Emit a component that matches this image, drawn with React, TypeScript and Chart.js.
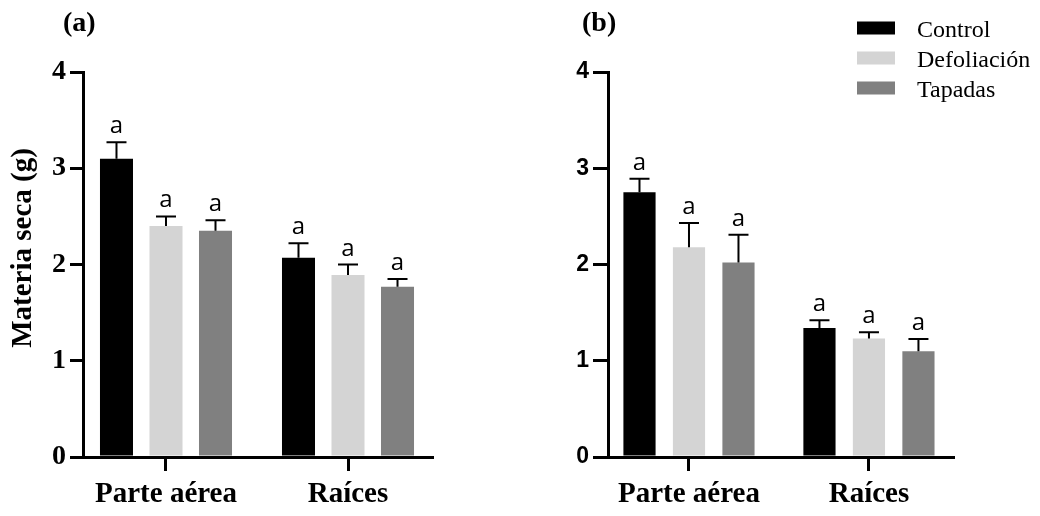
import React, { useEffect, useRef } from "react";
import { Chart, registerables } from "chart.js";

Chart.register(...registerables);

// ---------- data ----------
const categories = ["Parte aérea", "Raíces"];
const seriesNames = ["Control", "Defoliación", "Tapadas"];
const seriesColors = ["#000000", "#d4d4d4", "#808080"];
const yTickValues = [0, 1, 2, 3, 4];
const yAxisTitle = "Materia seca (g)";

// panel (a)
const aControl = [3.1, 2.07];
const aControlErr = [0.17, 0.15];
const aDefoliacion = [2.4, 1.89];
const aDefoliacionErr = [0.1, 0.11];
const aTapadas = [2.35, 1.77];
const aTapadasErr = [0.11, 0.08];
const aLetters = ["a", "a"];

// panel (b)
const bControl = [2.75, 1.34];
const bControlErr = [0.14, 0.08];
const bDefoliacion = [2.18, 1.23];
const bDefoliacionErr = [0.25, 0.065];
const bTapadas = [2.02, 1.1];
const bTapadasErr = [0.29, 0.125];
const bLetters = ["a", "a"];

const SERIF = '"Liberation Serif", "Times New Roman", serif';
const SANS = '"Liberation Sans", Arial, sans-serif';

function buildDatasets(values: number[][], errs: number[][], letters: string[], catPct: number, barPct: number) {
  return values.map((vals, si) => ({
    label: seriesNames[si],
    data: vals.map((v, ci) => ({ x: ci, y: v })),
    errors: errs[si],
    letters: letters,
    backgroundColor: seriesColors[si],
    borderWidth: 0,
    categoryPercentage: catPct,
    barPercentage: barPct,
  }));
}

const overlayPlugin = {
  id: "overlay",
  afterDatasetsDraw(chart: any) {
    const ctx = chart.ctx;
    const ys = chart.scales.y;
    chart.data.datasets.forEach((ds: any, i: number) => {
      const meta = chart.getDatasetMeta(i);
      meta.data.forEach((bar: any, j: number) => {
        const v = ds.data[j].y;
        const e = ds.errors[j];
        const top = ys.getPixelForValue(v + e);
        ctx.save();
        ctx.strokeStyle = "#000";
        ctx.lineWidth = 2;
        ctx.beginPath();
        ctx.moveTo(bar.x, bar.y);
        ctx.lineTo(bar.x, top);
        ctx.moveTo(bar.x - 10, top);
        ctx.lineTo(bar.x + 10, top);
        ctx.stroke();
        ctx.fillStyle = "#000";
        ctx.font = '24px "Open Sans", sans-serif';
        ctx.textAlign = "center";
        ctx.textBaseline = "alphabetic";
        ctx.fillText(ds.letters[j], bar.x, top - 9);
        ctx.restore();
      });
    });
  },
  afterDraw(chart: any, _args: any, opts: any) {
    const ctx = chart.ctx;
    ctx.save();
    ctx.fillStyle = "#000";
    // panel title
    ctx.font = "bold 28px " + SERIF;
    ctx.textAlign = "left";
    ctx.textBaseline = "alphabetic";
    ctx.fillText(opts.title, opts.titleX, 31);
    // y-axis title
    if (opts.showYTitle) {
      ctx.save();
      ctx.translate(31, 248);
      ctx.rotate(-Math.PI / 2);
      ctx.font = "bold 29px " + SERIF;
      ctx.textAlign = "center";
      ctx.fillText(yAxisTitle, 0, 0);
      ctx.restore();
    }
    // legend
    if (opts.showLegend) {
      seriesNames.forEach((name, i) => {
        const cy = 28 + i * 30;
        ctx.fillStyle = seriesColors[i];
        ctx.fillRect(opts.legendX, cy - 6.5, 38, 13);
        ctx.fillStyle = "#000";
        ctx.font = "24px " + SERIF;
        ctx.textAlign = "left";
        ctx.fillText(name, opts.legendX + 60, cy + 9);
      });
    }
    ctx.restore();
  },
};

type PanelProps = {
  left: number;
  values: number[][];
  errs: number[][];
  letters: string[];
  title: string;
  titleX: number;
  showYTitle: boolean;
  showLegend: boolean;
  legendX: number;
  yAxisWidth: number;
  rightPad: number;
  xMin: number;
  xMax: number;
  yTickFont: any;
  yTickLen: number;
  catPct: number;
  barPct: number;
};

function Panel(p: PanelProps) {
  const ref = useRef<HTMLCanvasElement | null>(null);
  useEffect(() => {
    if (!ref.current) return;
    const chart = new Chart(ref.current, {
      type: "bar",
      data: { datasets: buildDatasets(p.values, p.errs, p.letters, p.catPct, p.barPct) as any },
      options: {
        animation: false,
        responsive: false,
        devicePixelRatio: 1,
        layout: { padding: { top: 72, right: p.rightPad, bottom: 0, left: 0 } },
        plugins: {
          legend: { display: false },
          tooltip: { enabled: false },
          overlay: {
            title: p.title,
            titleX: p.titleX,
            showYTitle: p.showYTitle,
            showLegend: p.showLegend,
            legendX: p.legendX,
          },
        } as any,
        scales: {
          x: {
            type: "linear",
            min: p.xMin,
            max: p.xMax,
            offset: false,
            afterBuildTicks: (scale: any) => {
              scale.ticks = categories.map((_, i) => ({ value: i }));
            },
            afterFit: (scale: any) => {
              scale.height = 59;
            },
            grid: {
              display: true,
              drawOnChartArea: false,
              drawTicks: true,
              tickLength: 14,
              lineWidth: 3,
              tickWidth: 3,
              color: "#000",
              tickColor: "#000",
              offset: false,
            },
            border: { display: true, width: 3, color: "#000" },
            ticks: {
              color: "#000",
              padding: 6,
              font: { family: SERIF, size: 29, weight: "bold" },
              callback: (v: any) => categories[v as number] ?? "",
            },
          },
          y: {
            type: "linear",
            min: 0,
            max: 4,
            afterBuildTicks: (scale: any) => {
              scale.ticks = yTickValues.map((v) => ({ value: v }));
            },
            afterFit: (scale: any) => {
              scale.width = p.yAxisWidth;
            },
            grid: {
              display: true,
              drawOnChartArea: false,
              drawTicks: true,
              tickLength: p.yTickLen,
              lineWidth: 3,
              tickWidth: 3,
              color: "#000",
              tickColor: "#000",
            },
            border: { display: true, width: 3, color: "#000" },
            ticks: {
              color: "#000",
              padding: 4,
              font: p.yTickFont,
            },
          },
        } as any,
      },
      plugins: [overlayPlugin as any],
    });
    return () => chart.destroy();
  }, []);
  return (
    <div style={{ position: "absolute", left: p.left, top: 0, width: 520, height: 516 }}>
      <canvas ref={ref} width={520} height={516} style={{ width: 520, height: 516, display: "block" }} />
    </div>
  );
}

export default function App() {
  return (
    <div style={{ position: "fixed", left: 0, top: 0, width: 1040, height: 516, background: "#fff", overflow: "hidden" }}>
      <Panel
        left={0}
        values={[aControl, aDefoliacion, aTapadas]}
        errs={[aControlErr, aDefoliacionErr, aTapadasErr]}
        letters={aLetters}
        title="(a)"
        titleX={63}
        showYTitle={true}
        showLegend={false}
        legendX={0}
        yAxisWidth={83}
        rightPad={88}
        xMin={-0.456}
        xMax={1.4615}
        yTickFont={{ family: SERIF, size: 28, weight: "bold" }}
        yTickLen={13}
        catPct={0.816}
        barPct={0.667}
      />
      <Panel
        left={520}
        values={[bControl, bDefoliacion, bTapadas]}
        errs={[bControlErr, bDefoliacionErr, bTapadasErr]}
        letters={bLetters}
        title="(b)"
        titleX={62}
        showYTitle={false}
        showLegend={true}
        legendX={337}
        yAxisWidth={88}
        rightPad={87}
        xMin={-0.45}
        xMax={1.467}
        yTickFont={{ family: SANS, size: 23, weight: "bold" }}
        yTickLen={15}
        catPct={0.825}
        barPct={0.65}
      />
    </div>
  );
}
